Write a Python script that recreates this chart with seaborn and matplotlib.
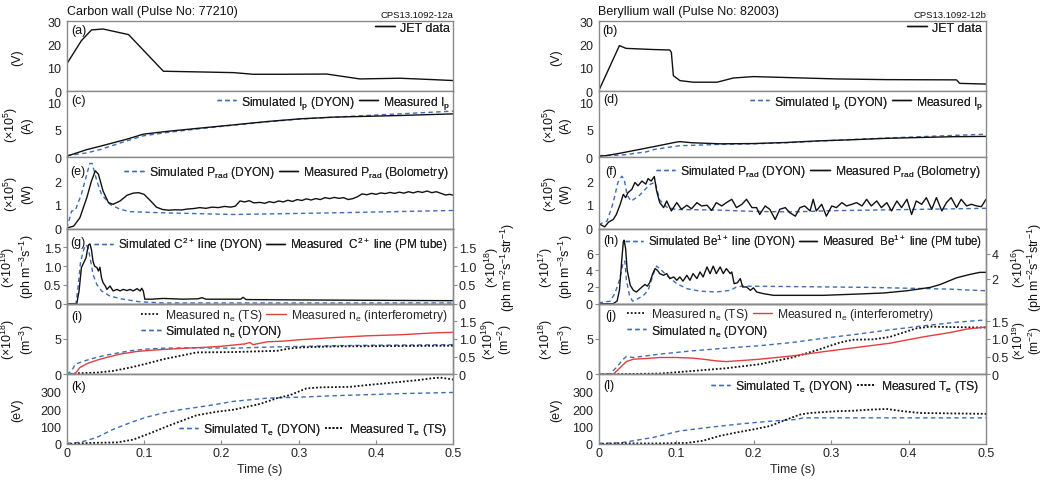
import matplotlib
matplotlib.use("Agg")
import matplotlib.pyplot as plt
from matplotlib.lines import Line2D
from matplotlib.transforms import offset_copy
import pandas as pd
import seaborn as sns

# ---------------- data (time in s) ----------------
# loop voltage (V)
VLOOP_C = [(0.000, 11.7), (0.019, 21.7), (0.032, 26.3), (0.047, 26.7), (0.080, 24.3),
           (0.125, 8.6), (0.172, 8.3), (0.216, 8.0), (0.241, 7.3), (0.280, 7.3),
           (0.336, 7.4), (0.379, 5.3), (0.431, 5.6), (0.474, 5.0), (0.500, 4.6)]
VLOOP_B = [(0.000, 0.0), (0.027, 19.6), (0.0355, 18.4), (0.071, 17.9), (0.092, 17.7),
           (0.094, 16.7), (0.0966, 6.7), (0.105, 4.6), (0.122, 3.9), (0.153, 3.9),
           (0.174, 5.7), (0.200, 6.3), (0.243, 5.9), (0.307, 5.3), (0.372, 5.0),
           (0.462, 4.9), (0.466, 3.4), (0.500, 3.1)]

# plasma current (x1e5 A)
IP_C_MEAS = [(0.000, 0.2), (0.026, 1.4), (0.043, 2.0), (0.078, 3.3), (0.099, 4.2),
             (0.129, 4.7), (0.172, 5.3), (0.216, 5.9), (0.259, 6.5), (0.302, 7.0),
             (0.345, 7.3), (0.388, 7.45), (0.431, 7.6), (0.500, 7.9)]
IP_C_SIM = [(0.000, 0.3), (0.026, 0.8), (0.043, 1.4), (0.078, 3.0), (0.099, 3.9),
            (0.129, 4.5), (0.172, 5.2), (0.216, 5.85), (0.259, 6.45), (0.302, 6.95),
            (0.345, 7.3), (0.388, 7.6), (0.431, 7.9), (0.500, 8.4)]
IP_B_MEAS = [(0.000, 0.2), (0.010, 0.3), (0.030, 0.8), (0.050, 1.35), (0.070, 1.9),
             (0.100, 2.75), (0.105, 2.85), (0.120, 2.65), (0.157, 2.45), (0.200, 2.5),
             (0.243, 2.7), (0.286, 3.0), (0.329, 3.2), (0.372, 3.45), (0.415, 3.6),
             (0.458, 3.75), (0.500, 3.8)]
IP_B_SIM = [(0.000, 0.3), (0.028, 0.4), (0.036, 0.5), (0.062, 1.0), (0.071, 1.4),
            (0.099, 2.0), (0.105, 2.1), (0.157, 2.35), (0.200, 2.45), (0.243, 2.65),
            (0.329, 3.25), (0.415, 3.75), (0.500, 4.2)]

# radiated power (x1e5 W)
PRAD_C_MEAS = [(0.000, 0.02), (0.009, 0.10), (0.017, 0.45), (0.026, 1.30), (0.032, 2.00),
               (0.037, 2.43), (0.041, 2.29), (0.047, 1.58), (0.054, 1.09), (0.060, 1.02),
               (0.069, 1.16), (0.078, 1.40), (0.086, 1.49), (0.093, 1.51), (0.100, 1.44),
               (0.108, 1.18), (0.116, 0.90), (0.124, 0.80), (0.132, 0.77), (0.140, 0.79),
               (0.148, 0.78), (0.156, 0.82), (0.164, 0.84), (0.172, 0.88), (0.180, 0.85),
               (0.188, 0.90), (0.196, 0.88), (0.204, 0.93), (0.212, 0.90), (0.218, 0.94),
               (0.224, 1.16), (0.230, 1.12), (0.236, 1.17), (0.242, 1.08), (0.250, 1.10),
               (0.256, 1.06), (0.262, 1.13), (0.268, 1.09), (0.274, 1.16), (0.280, 1.12),
               (0.286, 1.19), (0.292, 1.14), (0.298, 1.22), (0.304, 1.18), (0.310, 1.25),
               (0.316, 1.20), (0.322, 1.26), (0.328, 1.22), (0.334, 1.30), (0.340, 1.26),
               (0.346, 1.31), (0.352, 1.27), (0.358, 1.30), (0.364, 1.22), (0.370, 1.26),
               (0.376, 1.34), (0.382, 1.46), (0.388, 1.42), (0.394, 1.48), (0.400, 1.44),
               (0.406, 1.50), (0.412, 1.47), (0.418, 1.52), (0.424, 1.48), (0.430, 1.53),
               (0.436, 1.49), (0.442, 1.55), (0.448, 1.50), (0.454, 1.56), (0.460, 1.52),
               (0.466, 1.58), (0.472, 1.51), (0.478, 1.55), (0.484, 1.48), (0.490, 1.41),
               (0.495, 1.44), (0.500, 1.40)]
PRAD_C_SIM = [(0.000, 0.0), (0.0065, 0.74), (0.011, 0.76), (0.019, 1.44), (0.026, 2.29),
              (0.030, 2.74), (0.033, 2.74), (0.039, 2.0), (0.045, 1.44), (0.056, 1.02),
              (0.069, 0.81), (0.082, 0.71), (0.125, 0.66), (0.216, 0.59), (0.345, 0.66),
              (0.500, 0.76)]
PRAD_B_MEAS = [(0.000, 0.21), (0.008, 0.07), (0.013, 0.27), (0.019, 0.38), (0.023, 0.59),
               (0.028, 1.02), (0.032, 1.44), (0.035, 1.30), (0.038, 1.51), (0.043, 1.65),
               (0.047, 1.94), (0.051, 1.80), (0.056, 2.00), (0.061, 1.87), (0.064, 2.10),
               (0.068, 2.00), (0.072, 2.19), (0.075, 1.58), (0.079, 1.09), (0.084, 0.88),
               (0.088, 1.16), (0.094, 0.74), (0.101, 1.09), (0.107, 0.81), (0.114, 0.98),
               (0.120, 0.83), (0.127, 1.09), (0.133, 0.95), (0.140, 0.98), (0.146, 0.76),
               (0.152, 1.09), (0.159, 0.95), (0.165, 1.09), (0.172, 1.23), (0.178, 0.88),
               (0.185, 1.02), (0.191, 1.23), (0.198, 0.88), (0.204, 0.88), (0.208, 0.59),
               (0.215, 0.95), (0.221, 0.81), (0.228, 0.38), (0.234, 0.81), (0.241, 0.88),
               (0.247, 0.66), (0.254, 0.52), (0.260, 0.88), (0.266, 0.95), (0.273, 0.74),
               (0.277, 1.23), (0.281, 0.74), (0.288, 1.02), (0.294, 0.52), (0.301, 0.95),
               (0.307, 0.88), (0.314, 1.09), (0.320, 0.95), (0.327, 1.02), (0.333, 1.09),
               (0.340, 0.95), (0.346, 1.23), (0.352, 0.95), (0.359, 1.16), (0.365, 0.88),
               (0.372, 1.09), (0.378, 0.74), (0.385, 1.16), (0.391, 0.88), (0.398, 1.23),
               (0.404, 0.59), (0.410, 1.16), (0.417, 1.02), (0.423, 1.30), (0.430, 0.81),
               (0.436, 1.30), (0.443, 0.74), (0.449, 1.09), (0.455, 1.30), (0.462, 0.88),
               (0.468, 1.23), (0.475, 0.95), (0.481, 1.02), (0.488, 0.95), (0.494, 0.92),
               (0.500, 1.23)]
PRAD_B_SIM = [(0.000, 0.17), (0.011, 0.31), (0.019, 1.09), (0.025, 1.94), (0.030, 2.20),
              (0.033, 2.10), (0.037, 1.40), (0.042, 1.15), (0.053, 1.40), (0.066, 1.85),
              (0.073, 1.95), (0.079, 1.20), (0.088, 0.90), (0.100, 0.80), (0.150, 0.78),
              (0.200, 0.72), (0.250, 0.70), (0.300, 0.75), (0.400, 0.80), (0.500, 0.85)]

# impurity line emission (C2+: x1e19, Be1+: x1e17 ph m^-3 s^-1)
C2_MEAS = [(0.000, 0.0), (0.013, 0.0), (0.016, 0.34), (0.019, 0.96), (0.022, 1.09),
           (0.025, 1.22), (0.028, 1.56), (0.030, 1.59), (0.032, 1.44), (0.034, 1.13),
           (0.036, 1.00), (0.039, 0.96), (0.041, 0.87), (0.043, 0.97), (0.045, 0.69),
           (0.047, 0.56), (0.050, 0.47), (0.052, 0.38), (0.056, 0.47), (0.060, 0.34),
           (0.065, 0.38), (0.069, 0.34), (0.073, 0.38), (0.078, 0.35), (0.082, 0.38),
           (0.086, 0.34), (0.091, 0.40), (0.095, 0.34), (0.097, 0.41), (0.099, 0.34),
           (0.101, 0.12), (0.110, 0.12), (0.125, 0.14), (0.150, 0.12), (0.170, 0.13),
           (0.175, 0.16), (0.180, 0.12), (0.225, 0.12), (0.228, 0.17), (0.232, 0.11),
           (0.300, 0.10), (0.400, 0.09), (0.500, 0.08)]
C2_SIM = [(0.000, 0.0), (0.012, 0.0), (0.015, 0.51), (0.018, 1.13), (0.022, 1.44),
          (0.025, 1.57), (0.028, 1.47), (0.031, 1.13), (0.034, 0.78), (0.039, 0.51),
          (0.045, 0.34), (0.056, 0.20), (0.073, 0.12), (0.095, 0.05), (0.125, 0.02),
          (0.500, 0.02)]
BE1_MEAS = [(0.000, 0.0), (0.019, 0.0), (0.024, 0.32), (0.027, 1.6), (0.030, 5.2),
            (0.032, 7.4), (0.033, 7.6), (0.035, 6.6), (0.037, 4.0), (0.041, 2.2),
            (0.045, 1.6), (0.049, 1.4), (0.056, 2.0), (0.060, 2.3), (0.063, 2.1),
            (0.066, 2.5), (0.070, 3.6), (0.073, 4.2), (0.076, 4.0), (0.079, 3.6),
            (0.084, 3.4), (0.088, 3.6), (0.092, 3.0), (0.097, 3.2), (0.101, 2.8),
            (0.105, 3.2), (0.109, 2.7), (0.114, 3.4), (0.118, 2.8), (0.122, 3.6),
            (0.127, 3.0), (0.131, 3.8), (0.135, 3.2), (0.140, 4.4), (0.144, 3.6),
            (0.148, 4.5), (0.152, 3.6), (0.157, 4.4), (0.161, 3.6), (0.165, 4.2),
            (0.170, 3.6), (0.172, 3.8), (0.175, 2.4), (0.179, 2.5), (0.183, 3.0),
            (0.186, 2.0), (0.191, 2.0), (0.196, 1.6), (0.200, 1.9), (0.204, 1.4),
            (0.213, 1.2), (0.226, 1.0), (0.247, 1.0), (0.290, 1.0), (0.333, 1.15),
            (0.368, 1.28), (0.398, 1.55), (0.428, 1.95), (0.441, 2.3), (0.462, 3.1),
            (0.479, 3.5), (0.492, 3.75), (0.500, 3.75)]
BE1_SIM = [(0.000, 0.1), (0.015, 0.3), (0.021, 1.2), (0.027, 2.8), (0.032, 5.0),
           (0.034, 5.1), (0.036, 2.8), (0.040, 1.0), (0.044, 0.3), (0.049, 0.5),
           (0.058, 1.0), (0.064, 1.6), (0.071, 3.6), (0.075, 4.5), (0.079, 4.2),
           (0.088, 3.4), (0.101, 2.4), (0.114, 1.8), (0.131, 1.5), (0.152, 1.4),
           (0.170, 1.6), (0.178, 2.0), (0.185, 2.1), (0.250, 2.05), (0.350, 1.95),
           (0.450, 1.75), (0.500, 1.55)]

# electron density (x1e18 m^-3)
NE_C_SIM = [(0.000, 0.0), (0.0065, 0.48), (0.011, 1.43), (0.017, 1.67), (0.030, 2.14),
            (0.047, 2.62), (0.065, 3.0), (0.082, 3.33), (0.103, 3.57), (0.125, 3.70),
            (0.168, 3.75), (0.216, 3.70), (0.259, 3.85), (0.302, 3.95), (0.345, 4.05),
            (0.400, 4.12), (0.500, 4.2)]
NE_C_INT = [(0.000, 0.0), (0.011, 0.1), (0.017, 0.95), (0.026, 1.5), (0.039, 2.0),
            (0.052, 2.4), (0.069, 2.86), (0.091, 3.24), (0.112, 3.43), (0.134, 3.57),
            (0.155, 3.71), (0.177, 3.81), (0.198, 3.95), (0.216, 4.15), (0.230, 4.3),
            (0.237, 4.5), (0.241, 4.2), (0.259, 4.6), (0.280, 4.7), (0.302, 4.9),
            (0.345, 5.2), (0.388, 5.45), (0.431, 5.6), (0.474, 5.86), (0.500, 5.95)]
NE_C_TS = [(0.000, 0.0), (0.013, 0.14), (0.039, 0.24), (0.060, 0.48), (0.082, 0.95),
           (0.103, 1.5), (0.125, 2.14), (0.147, 2.62), (0.168, 3.1), (0.216, 3.15),
           (0.272, 3.33), (0.289, 3.67), (0.302, 3.8), (0.345, 3.95), (0.500, 4.05)]
NE_B_SIM = [(0.000, 0.0), (0.015, 0.1), (0.023, 0.95), (0.032, 2.14), (0.036, 2.52),
            (0.045, 2.38), (0.062, 2.62), (0.079, 2.86), (0.122, 3.33), (0.165, 3.71),
            (0.208, 4.05), (0.251, 4.52), (0.290, 5.1), (0.333, 5.67), (0.376, 6.3),
            (0.419, 6.86), (0.462, 7.38), (0.500, 7.7)]
NE_B_INT = [(0.000, 0.0), (0.019, 0.0), (0.028, 0.95), (0.036, 1.8), (0.045, 2.14),
            (0.062, 2.24), (0.079, 2.38), (0.101, 2.38), (0.122, 2.29), (0.135, 2.14),
            (0.152, 1.9), (0.165, 1.8), (0.178, 1.9), (0.191, 2.0), (0.208, 2.14),
            (0.230, 2.38), (0.251, 2.62), (0.290, 3.2), (0.333, 3.8), (0.376, 4.4),
            (0.419, 5.3), (0.453, 5.9), (0.475, 6.4), (0.500, 6.7)]
NE_B_TS = [(0.000, 0.0), (0.079, 0.1), (0.122, 0.48), (0.165, 0.86), (0.208, 1.43),
           (0.251, 2.4), (0.286, 3.57), (0.312, 4.52), (0.329, 4.9), (0.355, 4.95),
           (0.376, 5.3), (0.410, 6.5), (0.428, 6.76), (0.450, 6.7), (0.500, 6.62)]

# electron temperature (eV)
TE_C_SIM = [(0.000, 4), (0.017, 9), (0.039, 38), (0.060, 84), (0.082, 122), (0.103, 154),
            (0.125, 178), (0.147, 197), (0.168, 210), (0.190, 225), (0.216, 245),
            (0.259, 263), (0.302, 269), (0.345, 277), (0.388, 283), (0.431, 289),
            (0.500, 296)]
TE_C_TS = [(0.000, 0), (0.030, 6), (0.065, 9), (0.086, 25), (0.108, 62), (0.129, 100),
           (0.150, 135), (0.168, 165), (0.194, 185), (0.216, 197), (0.250, 230),
           (0.272, 263), (0.289, 281), (0.310, 319), (0.328, 325), (0.366, 328),
           (0.388, 338), (0.409, 347), (0.453, 366), (0.474, 378), (0.483, 381),
           (0.500, 370)]
TE_B_SIM = [(0.000, 4), (0.028, 6), (0.071, 38), (0.105, 75), (0.140, 94), (0.178, 113),
            (0.221, 131), (0.256, 141), (0.264, 150), (0.500, 150)]
TE_B_TS = [(0.000, 0), (0.028, 4), (0.071, 3), (0.114, 6), (0.135, 19), (0.157, 47),
           (0.178, 66), (0.200, 84), (0.221, 103), (0.243, 141), (0.260, 169),
           (0.273, 178), (0.307, 188), (0.329, 191), (0.350, 197), (0.372, 201),
           (0.393, 188), (0.415, 178), (0.500, 173)]

TIME_TICKS = [0, 0.1, 0.2, 0.3, 0.4, 0.5]
TIME_LABELS = ["0", "0.1", "0.2", "0.3", "0.4", "0.5"]

# ---------------- style ----------------
sns.set_theme(style="white")
plt.rcParams["font.family"] = ["Liberation Sans", "DejaVu Sans"]
plt.rcParams["mathtext.fontset"] = "custom"
plt.rcParams["mathtext.rm"] = "Liberation Sans:normal"
plt.rcParams["mathtext.it"] = "Liberation Sans:normal"
plt.rcParams["mathtext.default"] = "rm"

FS = 9
LFS = 8.7
BLUE = "#3e6db4"
RED = "#e0403e"
INK = "#111111"
FRAME = "#8a8a8a"
SOLID = "-"
DASH = (0, (3.2, 2.4))
DOT = (0, (1, 1.1))

W, H = 1043, 485
fig = plt.figure(figsize=(W / 100, H / 100), dpi=100)

ROWS = [22.3, 92.3, 158.3, 229.5, 304.7, 375.3, 445.0]
COLS = [(66.7, 386.7), (598.5, 387.5)]


def make_axes(col, row):
    left, width = COLS[col]
    top, bot = ROWS[row], ROWS[row + 1]
    return fig.add_axes([left / W, 1 - bot / H, width / W, (bot - top) / H])


def trace(ax, series, color, style, lw=1.0):
    frame = pd.DataFrame(series, columns=["t", "v"])
    sns.lineplot(data=frame, x="t", y="v", ax=ax, color=color, linestyle=style,
                 linewidth=lw, estimator=None, sort=False)
    return ax.lines[-1]


def frame_axes(ax, ylim, ticks, labels, bottom=False):
    ax.set_xlim(0, 0.5)
    ax.set_ylim(*ylim)
    ax.set_yticks(ticks)
    ax.set_yticklabels(labels)
    ax.set_xlabel("")
    ax.set_ylabel("")
    for sp in ax.spines.values():
        sp.set_color(FRAME)
        sp.set_linewidth(1.0)
        sp.set_visible(True)
    ax.tick_params(axis="y", direction="out", length=3, width=0.8, color=FRAME,
                   labelsize=FS, pad=1, labelcolor="#222222")
    if bottom:
        ax.set_xticks(TIME_TICKS)
        ax.set_xticklabels(TIME_LABELS)
        ax.tick_params(axis="x", direction="in", length=3, width=0.8, color=FRAME,
                       labelsize=FS, pad=2, labelcolor="#222222", bottom=True)
        ax.set_xlabel("Time (s)", fontsize=FS, labelpad=3)
    else:
        ax.set_xticks(TIME_TICKS)
        ax.tick_params(axis="x", bottom=False, labelbottom=False)


def right_axis(ax, ylim, ticks, labels):
    axr = ax.twinx()
    axr.set_ylim(*ylim)
    axr.set_yticks(ticks)
    axr.set_yticklabels(labels)
    for sp in axr.spines.values():
        sp.set_color(FRAME)
        sp.set_linewidth(1.0)
    axr.tick_params(axis="y", direction="out", length=3, width=0.8, color=FRAME,
                    labelsize=FS, pad=1, labelcolor="#222222")
    axr.grid(False)
    return axr


def panel_tag(ax, text, dx, dy):
    tr = offset_copy(ax.transAxes, fig=fig, x=dx, y=-dy, units="dots")
    ax.text(0, 1, text, transform=tr, ha="left", va="center", fontsize=FS, color=INK)


def key(ax, handles, labels, ncol, dx, dy, loc="upper right", fs=LFS):
    if loc == "upper right":
        tr = offset_copy(ax.transAxes, fig=fig, x=-dx, y=-dy, units="dots")
        anchor = (1, 1)
    elif loc == "upper left":
        tr = offset_copy(ax.transAxes, fig=fig, x=dx, y=-dy, units="dots")
        anchor = (0, 1)
    else:
        tr = offset_copy(ax.transAxes, fig=fig, x=-dx, y=dy, units="dots")
        anchor = (1, 0)
    leg = ax.legend(handles, labels, ncol=ncol, loc=loc, bbox_to_anchor=anchor,
                    bbox_transform=tr, frameon=False, fontsize=fs, handlelength=1.6,
                    handletextpad=0.4, columnspacing=0.35, borderpad=0,
                    borderaxespad=0, labelspacing=0.2)
    ax.add_artist(leg)
    return leg


def side_label(xpx, row, text, spacing=1.1, fs=FS):
    yc = 0.5 * (ROWS[row] + ROWS[row + 1])
    fig.text(xpx / W, 1 - yc / H, text, rotation=90, ha="center", va="center",
             fontsize=fs, linespacing=spacing, color=INK)


def h_line(color, style, lw=1.0):
    return Line2D([], [], color=color, linestyle=style, linewidth=lw)


sim = h_line(BLUE, DASH)
meas = h_line(INK, SOLID)
ts = h_line(INK, DOT, 1.3)
intf = h_line(RED, SOLID)

# ---------------- two columns of six stacked panels ----------------
for col in (0, 1):
    carbon = col == 0
    axes = [make_axes(col, r) for r in range(6)]
    a_v, a_ip, a_pr, a_ln, a_ne, a_te = axes

    # loop voltage
    trace(a_v, VLOOP_C if carbon else VLOOP_B, INK, SOLID)
    frame_axes(a_v, (0, 30), [0, 10, 20, 30], ["0", "10", "20", "30"])
    key(a_v, [meas], ["JET data"], 1, 3 if carbon else 4, 0.5, fs=FS)

    # plasma current
    trace(a_ip, IP_C_SIM if carbon else IP_B_SIM, BLUE, DASH)
    trace(a_ip, IP_C_MEAS if carbon else IP_B_MEAS, INK, SOLID)
    frame_axes(a_ip, (0, 12), [0, 5, 10], ["0", "5", "10"])
    key(a_ip, [sim, meas], ["Simulated I$_p$ (DYON)", "Measured I$_p$"], 2, 3, 2.5)

    # radiated power
    trace(a_pr, PRAD_C_SIM if carbon else PRAD_B_SIM, BLUE, DASH)
    trace(a_pr, PRAD_C_MEAS if carbon else PRAD_B_MEAS, INK, SOLID)
    frame_axes(a_pr, (0, 3), [0, 1, 2], ["0", "1", "2"])
    key(a_pr, [sim, meas], ["Simulated P$_{rad}$ (DYON)", "Measured P$_{rad}$ (Bolometry)"],
        2, 5 if carbon else 6, 6.5 if carbon else 5.5)

    # impurity line emission
    if carbon:
        trace(a_ln, C2_SIM, BLUE, DASH)
        trace(a_ln, C2_MEAS, INK, SOLID)
        frame_axes(a_ln, (0, 2.0), [0, 0.5, 1.0, 1.5], ["0", "0.5", "1.0", "1.5"])
        right_axis(a_ln, (0, 2.0), [0, 0.5, 1.0, 1.5], ["0", "0.5", "1.0", "1.5"])
        key(a_ln, [sim, meas], ["Simulated C$^{2+}$ line (DYON)",
                                "Measured  C$^{2+}$ line (PM tube)"], 2, 6, 6.5, fs=8.5)
    else:
        trace(a_ln, BE1_SIM, BLUE, DASH)
        trace(a_ln, BE1_MEAS, INK, SOLID)
        frame_axes(a_ln, (0, 9), [0, 2, 4, 6], ["0", "2", "4", "6"])
        right_axis(a_ln, (0, 6), [2, 4], ["2", "4"])
        key(a_ln, [sim, meas], ["Simulated Be$^{1+}$ line (DYON)",
                                "Measured  Be$^{1+}$ line (PM tube)"], 2, 4, 3.5, fs=8.3)

    # electron density
    trace(a_ne, NE_C_SIM if carbon else NE_B_SIM, BLUE, DASH)
    trace(a_ne, NE_C_TS if carbon else NE_B_TS, INK, DOT, 1.3)
    trace(a_ne, NE_C_INT if carbon else NE_B_INT, RED, SOLID)
    frame_axes(a_ne, (0, 10), [0, 5], ["0", "5"])
    right_axis(a_ne, (0, 2.0), [0, 0.5, 1.0, 1.5], ["0", "0.5", "1.0", "1.5"])
    row1 = ["Measured n$_e$ (TS)", "Measured n$_e$ (interferometry)"]
    row2 = ["Simulated n$_e$ (DYON)"]
    if carbon:
        key(a_ne, [ts, intf], row1, 2, 6, 3.5)
        key(a_ne, [sim], row2, 1, 74.5, 19.5, loc="upper left")
    else:
        key(a_ne, [ts, intf], row1, 2, 28.5, 2.5, loc="upper left")
        key(a_ne, [sim], row2, 1, 28.5, 19.0, loc="upper left")

    # electron temperature
    trace(a_te, TE_C_SIM if carbon else TE_B_SIM, BLUE, DASH)
    trace(a_te, TE_C_TS if carbon else TE_B_TS, INK, DOT, 1.3)
    frame_axes(a_te, (0, 400), [0, 100, 200, 300], ["0", "100", "200", "300"], bottom=True)
    te_labels = ["Simulated T$_e$ (DYON)", "Measured T$_e$ (TS)"]
    if carbon:
        key(a_te, [sim, ts], te_labels, 2, 6, 6.5, loc="lower right")
    else:
        key(a_te, [sim, ts], te_labels, 2, 7, 3.5)

    # panel letters
    letters = ["(a)", "(c)", "(e)", "(g)", "(i)", "(k)"] if carbon else \
              ["(b)", "(d)", "(f)", "(h)", "(j)", "(l)"]
    tag_dy = [8.7, 8.7, 14.2, 14, 12, 12] if carbon else [9, 8, 14, 12, 11, 11]
    tag_dx = [4.3, 5, 3.5, 4, 5, 4.5] if carbon else [4, 4.5, 6.5, 4.5, 6.5, 4.5]
    for ax, txt, dx, dy in zip(axes, letters, tag_dx, tag_dy):
        panel_tag(ax, txt, dx, dy)

    # headers
    left, width = COLS[col]
    fig.text(left / W, 1 - 12 / H,
             "Carbon wall (Pulse No: 77210)" if carbon else "Beryllium wall (Pulse No: 82003)",
             ha="left", va="center", fontsize=FS, color=INK)
    fig.text((left + width) / W, 1 - 15 / H,
             "CPS13.1092-12a" if carbon else "CPS13.1092-12b",
             ha="right", va="center", fontsize=6.8, color=INK)

    # axis captions
    lx = 17.5 if carbon else 556
    side_label(lx, 0, "(V)")
    side_label(lx, 1, "(×10$^{5}$)\n(A)")
    side_label(lx, 2, "(×10$^{5}$)\n(W)")
    side_label(lx, 3, "(×10$^{19}$)\n(ph m$^{-3}$s$^{-1}$)" if carbon
               else "(×10$^{17}$)\n(ph m$^{-3}$s$^{-1}$)")
    side_label(lx, 4, "(×10$^{18}$)\n(m$^{-3}$)")
    side_label(lx, 5, "(eV)")
    side_label(500 if carbon else 1027, 3,
               "(×10$^{18}$)\n(ph m$^{-2}$s$^{-1}$str$^{-1}$)" if carbon
               else "(×10$^{16}$)\n(ph m$^{-2}$s$^{-1}$str$^{-1}$)", spacing=0.88)
    side_label(497 if carbon else 1026.5, 4, "(×10$^{19}$)\n(m$^{-2}$)", spacing=0.82,
               fs=FS if carbon else 8.6)

fig.savefig("out.png", dpi=100, facecolor="white")
